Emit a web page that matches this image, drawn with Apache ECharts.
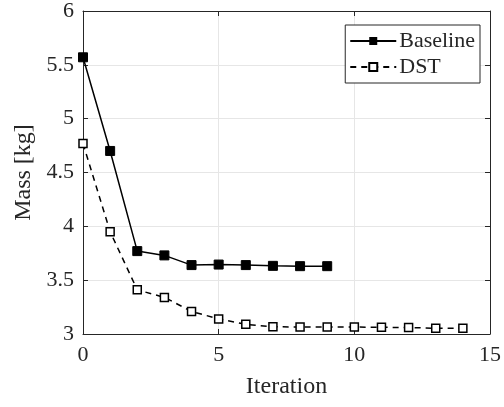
<!DOCTYPE html>
<html><head><meta charset="utf-8">
<script src="https://cdn.jsdelivr.net/npm/echarts@6/dist/echarts.min.js"></script>
<style>html,body{margin:0;padding:0;background:#fff}#c{width:504px;height:407px}</style>
</head><body><div id="c"></div>
<script>
const baselineX = [0,1,2,3,4,5,6,7,8,9];
const baselineY = [5.57,4.70,3.77,3.73,3.64,3.645,3.64,3.633,3.63,3.63];
const dstX = [0,1,2,3,4,5,6,7,8,9,10,11,12,13,14];
const dstY = [4.77,3.95,3.41,3.34,3.21,3.14,3.09,3.067,3.065,3.065,3.065,3.062,3.06,3.053,3.053];
const xTicks = [0,5,10,15];
const yTicks = [3,3.5,4,4.5,5,5.5,6];

const font = 'Liberation Serif';
const chart = echarts.init(document.getElementById('c'));
const zip = (a,b)=>a.map((v,i)=>[v,b[i]]);
const baseAxis = {
  type:'value', axisLine:{show:true,onZero:false,lineStyle:{color:'#262626',width:1}},
  axisTick:{show:true,inside:true,length:5,lineStyle:{color:'#262626'}},
  splitLine:{show:false}
};
chart.setOption({
  animation:false,
  grid:{left:83,right:13,top:10,bottom:73,containLabel:false},
  legend:{
    top:25,right:24,orient:'vertical',itemGap:4,itemWidth:46,itemHeight:10,
    borderColor:'#262626',borderWidth:1,padding:[5,5,5,4],backgroundColor:'#fff',
    textStyle:{fontFamily:font,fontSize:22,color:'#262626',padding:[0,0,0,-2]},
    data:['Baseline','DST']
  },
  xAxis:[
    Object.assign({},baseAxis,{min:0,max:15,interval:5,position:'bottom',
      name:'Iteration',nameLocation:'middle',nameGap:41,
      nameTextStyle:{fontFamily:font,fontSize:24,color:'#262626'},
      axisLabel:{fontFamily:font,fontSize:22,color:'#262626',margin:10,
        customValues:xTicks},
      splitLine:{show:true,lineStyle:{color:'#e6e6e6',width:1}}}),
    Object.assign({},baseAxis,{min:0,max:15,interval:5,position:'top',axisLabel:{show:false}})
  ],
  yAxis:[
    Object.assign({},baseAxis,{min:3,max:6,interval:0.5,position:'left',
      name:'Mass [kg]',nameLocation:'middle',nameGap:47,nameRotate:90,
      nameTextStyle:{fontFamily:font,fontSize:24,color:'#262626'},
      axisLabel:{fontFamily:font,fontSize:22,color:'#262626',margin:9},
      splitLine:{show:true,lineStyle:{color:'#e6e6e6',width:1}}}),
    Object.assign({},baseAxis,{min:3,max:6,interval:0.5,position:'right',axisLabel:{show:false}})
  ],
  series:[
    {name:'Baseline',type:'line',data:zip(baselineX,baselineY),symbol:'rect',symbolSize:9,
      lineStyle:{color:'#000',width:1.5},itemStyle:{color:'#000',borderColor:'#000'},z:3},
    {name:'DST',type:'line',data:zip(dstX,dstY),symbol:'rect',symbolSize:8,
      lineStyle:{color:'#000',width:1.5,type:[6,5]},
      itemStyle:{color:'#fff',borderColor:'#000',borderWidth:1.5},z:3}
  ]
});
</script></body></html>
